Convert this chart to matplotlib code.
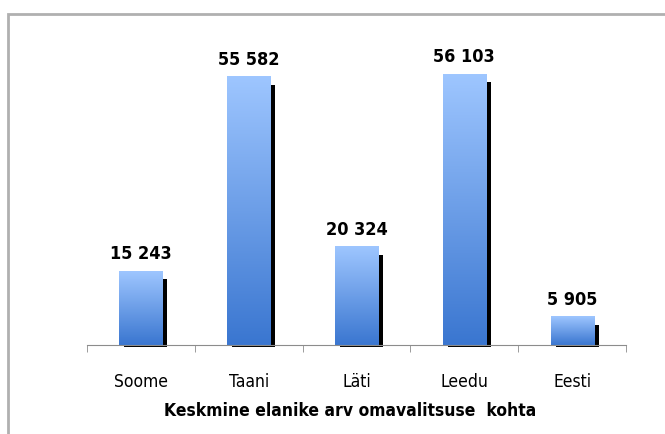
import numpy as np
import matplotlib
matplotlib.use('Agg')
import matplotlib.pyplot as plt
import matplotlib.transforms as mtransforms
from matplotlib.colors import LinearSegmentedColormap
from matplotlib.patches import Rectangle

# data
riigid = ['Soome', 'Taani', 'Läti', 'Leedu', 'Eesti']
elanikke = [15243, 55582, 20324, 56103, 5905]
sildid = ['15 243', '55 582', '20 324', '56 103', '5 905']
pealkiri = 'Keskmine elanike arv omavalitsuse  kohta'

fig = plt.figure(figsize=(6.65, 4.34), dpi=100)
# grey frame round the chart area
fig.patches.append(Rectangle((8/665, -0.1), 1.2, 1.1 - 14/434, transform=fig.transFigure,
                             fill=False, edgecolor='#b0b0b0', linewidth=2))

ax = fig.add_axes([87/665, 89/434, 539/665, 304/434])
ymax = 63000
ax.set_xlim(-0.5, len(riigid) - 0.5)
ax.set_ylim(0, ymax)

cmap = LinearSegmentedColormap.from_list('sinine', ['#3a76d0', '#9ec6ff'])
grad = np.linspace(0, 1, 256).reshape(-1, 1)
w = 0.4
x = np.arange(len(riigid))
# shadow starts a few pixels below the top of the bar
drop = 6 / 304 * ymax

shadow_tr = mtransforms.offset_copy(ax.transData, fig=fig, x=5, y=-2, units='dots')
for xi, v, s in zip(x, elanikke, sildid):
    # black shadow to the lower right
    ax.add_patch(Rectangle((xi - w/2, 0), w, v - drop, facecolor='black', edgecolor='none',
                           transform=shadow_tr, zorder=1, clip_on=False))
    ax.imshow(grad, cmap=cmap, extent=(xi - w/2, xi + w/2, 0, v), origin='lower',
              aspect='auto', zorder=2)
    ax.text(xi, v, s, ha='center', va='bottom', fontsize=13, fontweight='bold',
            fontstretch='condensed', color='black',
            transform=mtransforms.offset_copy(ax.transData, fig=fig, y=8, units='dots'))

ax.set_xlim(-0.5, len(riigid) - 0.5)
ax.set_ylim(0, ymax)

for side in ['top', 'right', 'left']:
    ax.spines[side].set_visible(False)
ax.spines['bottom'].set_color('#8c8c8c')
ax.spines['bottom'].set_zorder(3)
ax.set_yticks([])
ax.set_xticks(x)
ax.set_xticklabels(riigid, fontsize=12.5, fontstretch='condensed', color='black')
ax.tick_params(axis='x', which='major', length=0, pad=20)
ax.set_xticks(np.arange(-0.5, len(riigid)), minor=True)
ax.tick_params(axis='x', which='minor', length=5, color='#8c8c8c', direction='out')

fig.text(350/665, 1 - 411/434, pealkiri, ha='center', va='center', fontsize=12.5,
         fontweight='bold', fontstretch='condensed', color='black')

fig.savefig('out.png', dpi=100)
